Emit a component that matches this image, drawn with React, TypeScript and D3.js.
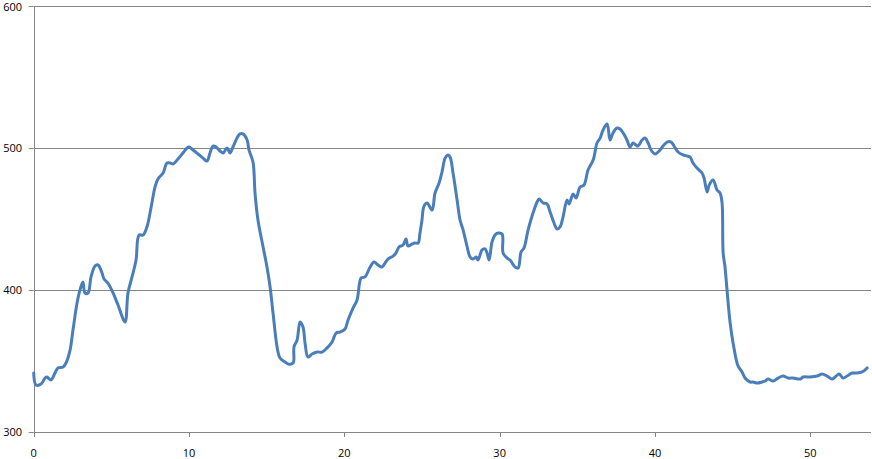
import React from "react";
import * as d3 from "d3";

const xValues: number[] = [
  0, 0.15, 0.47, 0.73, 0.86, 1.11, 1.37, 1.56, 1.89, 2.08, 2.34, 2.53, 2.79, 2.98, 3.17, 3.3, 3.5, 3.69, 3.95, 4.14,
  4.4, 4.53, 4.78, 5.11, 5.43, 5.88, 6.07, 6.33, 6.59, 6.78, 7.04, 7.29, 7.55, 7.81, 8.0, 8.33, 8.58, 8.78, 8.97, 9.29,
  9.61, 9.87, 10.0, 10.26, 10.58, 10.9, 11.16, 11.35, 11.55, 11.74, 12.0, 12.19, 12.45, 12.64, 12.83, 13.09, 13.28, 13.48, 13.74, 13.86,
  14.12, 14.25, 14.44, 14.77, 15.02, 15.22, 15.41, 15.67, 15.86, 16.18, 16.38, 16.7, 16.76, 16.96, 17.15, 17.34, 17.47, 17.66, 17.92, 18.24,
  18.57, 18.89, 19.21, 19.47, 19.72, 20.04, 20.24, 20.56, 20.82, 21.08, 21.33, 21.66, 21.91, 22.17, 22.43, 22.62, 22.81, 23.14, 23.33, 23.52,
  23.78, 23.97, 24.1, 24.36, 24.55, 24.75, 24.87, 25.0, 25.13, 25.33, 25.65, 25.84, 26.1, 26.29, 26.49, 26.68, 26.81, 27.0, 27.26, 27.45,
  27.65, 27.91, 28.1, 28.29, 28.49, 28.61, 28.87, 29.06, 29.19, 29.32, 29.51, 29.7, 29.9, 30.16, 30.22, 30.48, 30.67, 30.99, 31.19, 31.38,
  31.57, 31.83, 32.15, 32.41, 32.54, 32.8, 33.05, 33.25, 33.5, 33.7, 33.89, 34.08, 34.34, 34.47, 34.73, 34.92, 35.18, 35.43, 35.69, 36.02,
  36.27, 36.47, 36.66, 36.92, 37.11, 37.3, 37.56, 37.75, 37.95, 38.2, 38.4, 38.59, 38.78, 38.91, 39.17, 39.36, 39.56, 39.75, 40.01, 40.27,
  40.52, 40.78, 41.04, 41.23, 41.49, 41.81, 42.07, 42.26, 42.45, 42.71, 43.03, 43.16, 43.36, 43.49, 43.74, 44.0, 44.19, 44.32, 44.39, 44.51,
  44.64, 44.84, 45.03, 45.35, 45.61, 45.8, 46.13, 46.32, 46.57, 46.9, 47.09, 47.28, 47.61, 47.93, 48.25, 48.57, 48.89, 49.34, 49.54, 49.99,
  50.44, 50.76, 51.08, 51.4, 51.6, 51.86, 52.11, 52.37, 52.69, 53.01, 53.34, 53.53, 53.66,
];

const yValues: number[] = [
  341.5, 333.1, 333.8, 338.0, 338.7, 336.6, 341.5, 345.1, 345.8, 348.6, 357.7, 371.8, 390.8, 400.0, 405.6, 397.9, 397.9, 409.2, 416.9, 417.6,
  412.0, 407.7, 404.9, 397.9, 389.4, 377.5, 397.9, 409.2, 421.1, 438.7, 438.7, 444.4, 457.7, 472.5, 478.2, 482.4, 489.4, 489.4, 488.7, 492.2,
  496.5, 500.0, 500.7, 498.6, 495.8, 492.9, 490.8, 496.5, 501.4, 500.7, 497.9, 496.5, 500.0, 496.5, 500.7, 507.0, 509.9, 509.9, 505.6, 498.6,
  490.1, 468.3, 449.3, 430.3, 416.2, 402.1, 383.8, 359.9, 352.1, 349.3, 347.9, 348.6, 359.9, 364.8, 377.5, 373.9, 362.7, 352.8, 354.9, 356.3,
  356.3, 359.2, 363.4, 369.7, 370.4, 372.5, 378.9, 387.3, 393.0, 408.4, 409.2, 416.2, 419.7, 417.6, 416.2, 419.0, 421.8, 423.9, 426.1, 430.3,
  431.7, 435.9, 431.0, 432.4, 433.1, 433.1, 440.1, 449.3, 459.1, 461.3, 456.3, 468.3, 475.3, 483.1, 492.9, 495.1, 493.7, 482.4, 463.4, 449.3,
  442.2, 430.3, 423.2, 421.8, 423.2, 421.1, 428.2, 428.9, 426.1, 421.1, 433.8, 438.7, 440.1, 439.4, 426.1, 422.5, 421.1, 416.2, 415.5, 426.8,
  429.6, 442.2, 454.2, 462.0, 464.1, 461.3, 460.6, 454.9, 447.2, 443.0, 444.4, 451.4, 463.4, 460.6, 467.6, 464.8, 472.5, 473.9, 484.5, 491.5,
  503.5, 507.0, 512.7, 516.9, 505.6, 510.6, 514.1, 513.4, 510.6, 505.6, 500.7, 503.5, 502.1, 501.4, 505.6, 507.0, 503.5, 498.6, 495.8, 497.9,
  501.4, 504.2, 504.2, 501.4, 497.2, 495.1, 494.4, 493.7, 489.4, 485.9, 482.4, 478.9, 469.0, 473.9, 477.5, 470.4, 468.3, 461.3, 426.1, 416.2,
  400.0, 376.8, 362.7, 346.5, 342.3, 338.0, 335.2, 335.2, 334.5, 335.2, 335.9, 337.3, 335.9, 338.0, 339.4, 338.0, 338.0, 337.3, 338.7, 338.7,
  339.4, 340.8, 339.4, 337.3, 338.7, 340.8, 338.0, 339.4, 341.5, 341.5, 342.3, 343.7, 345.1,
];

const xTicks: number[] = [0, 10, 20, 30, 40, 50];
const yTicks: number[] = [300, 400, 500, 600];

const W = 872;
const H = 459;
const left = 33.7;
const right = 871;
const top = 6;
const bottom = 432;

export default function App() {
  const x = d3.scaleLinear().domain([0, 53.91]).range([left, right]);
  const y = d3.scaleLinear().domain([300, 600]).range([bottom, top]);
  const pts: [number, number][] = xValues.map((v, i) => [v, yValues[i]]);
  const line = d3
    .line<[number, number]>()
    .x((d) => x(d[0]))
    .y((d) => y(d[1]))
    .curve(d3.curveCatmullRom.alpha(0.5));
  const axisColor = "#868686";
  const font = "'Open Sans', 'DejaVu Sans', sans-serif";
  return (
    <svg
      width={W}
      height={H}
      style={{ position: "absolute", left: 0, top: 0, background: "#fff" }}
    >
      {yTicks.map((t) => (
        <g key={"y" + t}>
          {t !== 300 && (
            <line x1={left} x2={right} y1={Math.round(y(t)) + 0.5} y2={Math.round(y(t)) + 0.5} stroke={axisColor} strokeWidth={1} />
          )}
          <line x1={left - 5} x2={left} y1={Math.round(y(t)) + 0.5} y2={Math.round(y(t)) + 0.5} stroke={axisColor} strokeWidth={1} />
          <text x={22} y={Math.max(y(t), 7.5)} dy="0.35em" textAnchor="end" fontFamily={font} fontSize={11} fill="#000">
            {t}
          </text>
        </g>
      ))}
      {xTicks.map((t) => (
        <g key={"x" + t}>
          <line x1={Math.round(x(t)) + 0.5} x2={Math.round(x(t)) + 0.5} y1={bottom} y2={bottom + 5} stroke={axisColor} strokeWidth={1} />
          <text x={x(t)} y={453} dy="0.35em" textAnchor="middle" fontFamily={font} fontSize={11} fill="#000">
            {t}
          </text>
        </g>
      ))}
      <line x1={Math.round(left) + 0.5} x2={Math.round(left) + 0.5} y1={top} y2={bottom} stroke={axisColor} strokeWidth={1} />
      <line x1={left} x2={right} y1={Math.round(bottom) + 0.5} y2={Math.round(bottom) + 0.5} stroke={axisColor} strokeWidth={1} />
      <path d={line(pts) || ""} fill="none" stroke="#4A7EBB" strokeWidth={3} strokeLinejoin="round" strokeLinecap="round" />
    </svg>
  );
}
